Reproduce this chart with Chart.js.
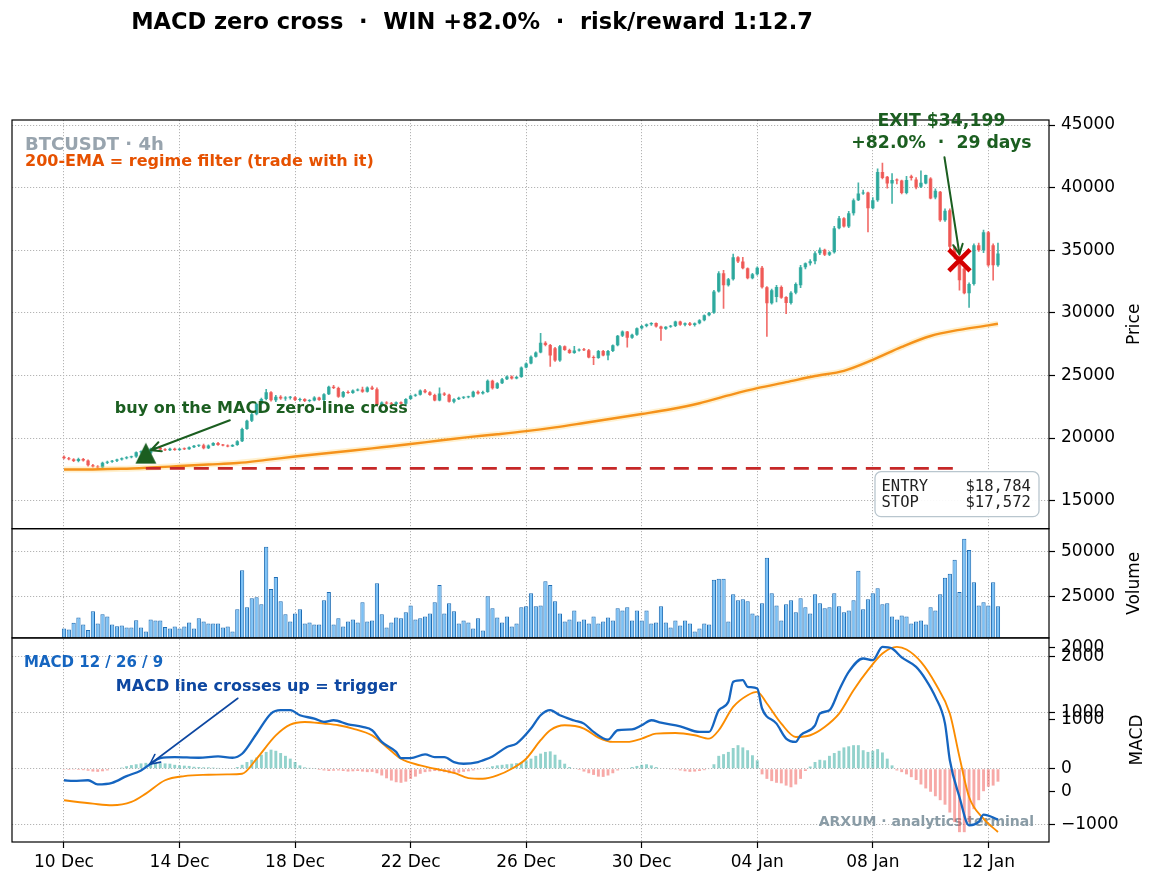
<!DOCTYPE html>
<html>
<head>
<meta charset="utf-8" />
<title>MACD zero cross</title>
<script src="https://cdn.jsdelivr.net/npm/chart.js@4"></script>
<style>
  html, body { margin: 0; padding: 0; background: #fff; }
  #wrap { position: relative; width: 1159px; height: 884px; }
</style>
</head>
<body>
<div id="wrap"><canvas id="chart" width="1159" height="884"></canvas></div>
<script>
// ---- data (4h candles, index 0 = 10 Dec) ----
const opens = [
  18500,18380,18300,18160,18330,18200,17820,17720,17640,18020,
  18110,18180,18280,18380,18470,18520,18860,18920,18784,19150,
  19220,19080,19020,19150,19040,19140,19100,19260,19380,19420,
  19180,19400,19600,19440,19400,19320,19440,19740,20720,21380,
  21900,22720,23120,23650,23020,23300,23150,23220,23260,23040,
  23120,22960,23000,23240,23040,23500,24100,24000,23300,23680,
  23600,23800,23880,23700,24040,23900,22640,22840,22760,22700,
  22860,22740,23120,23380,23460,23800,23660,23440,23000,23560,
  23460,22900,23100,23220,23260,23300,23700,23560,23680,24580,
  23980,24380,24700,24920,24760,24880,25640,25960,26500,26840,
  27600,27420,27160,26200,27320,27040,26800,27000,27080,27020,
  26440,26400,26960,26600,26960,27400,28160,28500,28000,28240,
  28760,28940,29080,29180,28900,28720,28880,28950,29300,29040,
  29160,29020,29160,29400,29800,30000,31700,33160,32200,32680,
  34440,34100,33560,32760,33080,33600,32040,30760,31260,32070,
  31260,30790,31600,32200,33640,33960,34120,34760,35040,34640,
  34840,36760,37560,36900,37960,39000,39530,39600,38360,39000,
  41240,40870,40330,40600,40560,39560,40900,40650,40070,40330,
  40730,39210,39670,37400,38200,35270,34500,33530,31560,32300,
  35400,35000,36440,35400,33800
];
const highs = [
  18580,18450,18360,18400,18380,18260,17900,17800,18080,18160,
  18220,18320,18420,18520,18560,18900,18980,19000,19200,19280,
  19260,19150,19190,19200,19180,19220,19300,19420,19460,19520,
  19450,19640,19660,19500,19460,19480,19800,20800,21440,22000,
  22800,23200,23880,23700,23400,23380,23300,23320,23300,23200,
  23160,23080,23300,23260,23540,24140,24200,24060,23720,23760,
  23840,23920,24060,24080,24140,24000,22900,22920,22860,22900,
  22900,23160,23420,23500,23850,23880,23700,23500,24000,23620,
  23500,23160,23260,23300,23340,23740,23760,23740,24640,24620,
  24420,24760,24960,24960,24920,25680,26000,26560,26880,28360,
  27700,27480,27240,27400,27360,27100,27320,27120,27160,27080,
  26560,27000,27000,27000,27440,28200,28560,28520,28300,28800,
  29000,29120,29220,29200,28940,28900,29000,29340,29340,29200,
  29240,29200,29460,29840,30040,31800,33300,33400,32760,34700,
  34500,34440,33600,33160,33680,33720,32100,31900,32200,32150,
  31300,31700,32400,33800,34000,34250,34900,35200,35100,34900,
  36900,37700,37600,38100,39100,40390,39800,39640,39200,41500,
  41960,40900,41130,40700,40600,40900,41000,40800,41350,41000,
  40800,39900,39700,38300,38300,35300,34700,33600,32400,35500,
  35560,36600,36500,35500,35560
];
const lows = [
  18330,18250,18120,18100,18150,17760,17680,17560,17600,17960,
  18060,18120,18240,18330,18420,18460,18780,18700,18740,19080,
  19050,18980,18990,19000,19010,19060,19080,19220,19300,19120,
  19150,19380,19400,19360,19280,19300,19400,19700,20680,21300,
  21850,22680,23050,22950,22900,23080,23000,23100,22980,22950,
  22900,22880,22960,23000,22980,23460,23950,23240,23250,23560,
  23560,23760,23640,23660,23860,22560,22520,22700,22640,22600,
  22700,22600,23080,23320,23420,23600,23400,22960,22960,23380,
  22860,22800,23060,23140,23200,23260,23500,23500,23640,23900,
  23940,24340,24660,24700,24720,24840,25600,25920,26460,26800,
  27360,25720,26120,26120,27000,26760,26760,26940,26980,26400,
  25860,26360,26560,26240,26900,27360,28100,27260,27960,28200,
  28700,28880,29000,28860,27800,28680,28840,28900,29000,28960,
  28980,28940,29120,29360,29760,29960,31640,30360,32120,32600,
  34000,33500,32700,32700,33000,31960,28120,30700,30870,31150,
  29930,30700,31500,32000,33500,33800,33900,34650,34560,34560,
  34760,36700,36840,36800,37800,38960,39450,36470,38300,38900,
  40700,39960,38730,40300,39500,39500,40600,39900,40000,40300,
  39100,39100,37300,37300,35100,34300,31800,31500,30440,32200,
  34900,34800,33700,32600,33700
];
const closes = [
  18380,18300,18160,18330,18200,17820,17720,17640,18020,18110,
  18180,18280,18380,18470,18520,18860,18920,18784,19150,19220,
  19080,19020,19150,19040,19140,19100,19260,19380,19420,19180,
  19400,19600,19440,19400,19320,19440,19740,20720,21380,21900,
  22720,23120,23650,23020,23300,23150,23220,23260,23040,23120,
  22960,23000,23240,23040,23500,24100,24000,23300,23680,23600,
  23800,23880,23700,24040,23900,22640,22840,22760,22700,22860,
  22740,23120,23380,23460,23800,23660,23440,23000,23560,23460,
  22900,23100,23220,23260,23300,23700,23560,23680,24580,23980,
  24380,24700,24920,24760,24880,25640,25960,26500,26840,27600,
  27420,26600,26200,27320,27040,26800,27000,27080,27020,26440,
  26400,26960,26600,26960,27400,28160,28500,28000,28240,28760,
  28940,29080,29180,28900,28720,28880,28950,29300,29040,29160,
  29020,29160,29400,29800,30000,31700,33160,32200,32680,34440,
  34100,33560,32760,33080,33600,32040,30760,31800,32070,31210,
  30790,31600,32300,33640,33960,34120,34760,35040,34640,34840,
  36760,37560,36900,37960,39000,39530,39600,38360,39000,41240,
  40760,40330,40600,40560,39560,40600,40760,40010,40390,41000,
  39130,39740,37400,38150,35270,34500,32600,31560,32300,35400,
  35000,36440,33800,33800,34740
];
const volumes = [
  6800,6200,10000,13000,9100,5900,16500,9650,14800,13600,
  9100,8100,8500,7400,7400,11500,7400,5100,11900,11300,
  11300,7700,6800,7900,6800,7900,10200,6800,12500,10800,
  9650,9650,9650,7400,7900,5100,17600,39600,18700,23900,
  24400,20400,52800,29000,35800,22100,14800,10800,15300,17600,
  9650,10200,9100,9100,22700,27300,9100,12500,7900,10800,
  11900,10200,21600,10800,11300,32300,14800,7400,10200,13000,
  12500,15900,19800,11900,12500,13600,15300,21600,31300,15300,
  21000,16500,9650,11300,10200,6800,12500,5700,25000,18200,
  13000,10200,13600,7900,9650,18700,19300,26700,19300,19800,
  33400,31300,22100,15300,10800,11900,17000,10800,11900,9650,
  13600,9650,10800,13000,11300,18200,17000,18700,11300,17000,
  11300,17000,9650,10200,19300,10200,7400,11300,8500,11300,
  9650,5100,6800,9650,9100,34200,34800,34800,10800,26100,
  22700,23300,22100,15300,14100,21000,46600,26700,19800,11300,
  20400,22700,15900,23900,18700,15300,26100,21000,18200,18700,
  26700,19300,15900,17000,22700,39400,17600,23300,26700,29500,
  20400,21000,13600,11900,14100,13600,9650,10800,11300,9100,
  18700,17000,26100,35400,37700,45500,27300,57400,51100,32900,
  19800,21600,19800,32900,19300
];
const macdHist = [
  -15,-20,-15,-20,-25,-35,-50,-55,-45,-30,
  -10,0,20,45,65,80,95,105,110,105,
  100,95,90,70,60,55,50,35,30,25,
  25,20,15,10,10,8,30,70,120,160,
  200,250,300,340,320,280,230,180,120,60,
  25,15,5,-20,-30,-40,-35,-30,-40,-50,
  -45,-40,-50,-60,-55,-80,-120,-170,-210,-240,
  -250,-230,-180,-140,-90,-60,-50,-40,-45,-60,
  -80,-85,-70,-55,-45,-30,-15,0,20,45,
  60,70,80,90,100,120,150,180,230,270,
  300,310,250,160,90,30,10,-20,-50,-80,
  -110,-140,-145,-120,-80,-30,-10,10,30,50,
  70,80,60,30,10,0,-5,-15,-30,-45,
  -55,-50,-40,-25,-10,80,230,260,300,370,
  420,380,330,240,150,-100,-180,-220,-250,-260,
  -300,-330,-280,-180,-40,40,120,160,150,230,
  280,320,380,400,420,420,330,300,320,350,
  290,180,60,-30,-60,-100,-150,-200,-280,-350,
  -410,-490,-560,-640,-780,-950,-1130,-1130,-950,-720,
  -560,-400,-320,-300,-230
];
const emaIdx  = [0,6,12,18,24,30,36,42,48,54,60,66,72,78,84,90,96,102,108,114,120,126,132,138,144,150,156,162,168,174,180,186,192,194];
const emaVals = [17480,17490,17540,17640,17760,17880,18000,18250,18520,18760,19000,19260,19520,19800,20070,20300,20550,20850,21200,21560,21920,22300,22780,23400,23980,24460,24950,25370,26250,27280,28150,28640,29000,29130];
const macdIdx  = [0,2,5,7,10,13,16,18,20,23,28,32,35,37,40,43,45,47,49,52,54,56,59,62,64,66,69,70,72,75,77,79,81,83,86,87,89,92,94,97,99,101,103,106,108,110,113,115,118,120,122,124,128,132,134,136,138,139,141,142,144,145,148,150,152,153,156,157,159,161,163,166,168,170,172,174,177,179,181,183,184,186,188,190,191,194];
const macdVals = [-205,-217,-205,-277,-250,-131,-30,89,190,208,196,220,196,267,624,983,1043,1043,953,894,834,864,792,745,686,478,300,190,190,256,208,208,119,89,119,149,220,389,448,716,953,1043,953,860,804,656,519,686,700,774,864,820,756,656,656,1043,1192,1548,1578,1459,1429,1073,804,537,478,597,774,983,1043,1400,1726,1964,1934,2172,2142,1984,1815,1590,1280,804,151,-503,-1008,-948,-817,-906];
const signalIdx  = [0,6,10,14,17,21,25,30,34,37,40,44,47,50,54,57,60,64,67,70,74,77,81,84,87,90,93,96,99,101,104,108,111,114,117,120,123,127,131,134,136,139,142,144,146,149,152,155,158,161,164,167,170,173,175,178,181,184,186,188,191,194];
const signalVals = [-562,-622,-651,-592,-443,-205,-131,-107,-101,-89,178,594,786,834,804,774,716,594,389,178,59,0,-75,-166,-178,-119,0,178,508,686,774,716,555,478,478,537,626,637,597,537,686,1102,1310,1370,1162,804,567,597,745,983,1400,1756,2053,2172,2124,1904,1518,983,211,-503,-889,-1127];

const xTickPos    = [0, 24, 48, 72, 96, 120, 144, 168, 192];
const xTickLabels = ['10 Dec', '14 Dec', '18 Dec', '22 Dec', '26 Dec', '30 Dec', '04 Jan', '08 Jan', '12 Jan'];
const priceTicks  = [15000, 20000, 25000, 30000, 35000, 40000, 45000];
const volumeTicks = [25000, 50000];
const macdTicks   = [-1000, 0, 1000, 2000];
const macdTwinTicks = [0, 1000, 2000];

const ENTRY = { idx: 17, price: 18784 };
const STOP  = { from: 17, to: 185, price: 17572 };
const EXIT  = { idx: 186, price: 34199 };

// axis limits
const X_MIN = -10.8, X_MAX = 204.6;
const PRICE_MIN = 12760, PRICE_MAX = 45400;
const VOL_MIN = 1480, VOL_MAX = 63060;
const MACD_MIN = -1305, MACD_MAX = 2331;
const TWIN_MIN = -704, TWIN_MAX = 2129;

// ---- styles ----
const UP = 'rgba(38,166,154,0.85)', DOWN = 'rgba(239,83,80,0.85)';
const GRID = '#b4b4b4';
const GREEN = '#1b5e20';
const FONT = '"DejaVu Sans", sans-serif';

Chart.defaults.font.family = FONT;
Chart.defaults.font.size = 17;
Chart.defaults.color = '#000';

const idx = closes.map((_, i) => i);
const candleColors = idx.map(i => closes[i] >= opens[i] ? UP : DOWN);
const histColors = macdHist.map(v => v >= 0 ? 'rgba(38,166,154,0.5)' : 'rgba(239,83,80,0.5)');

const fmt = v => (v < 0 ? '\u2212' + Math.abs(v) : String(v));
const twinToMain = v => MACD_MIN + (v - TWIN_MIN) / (TWIN_MAX - TWIN_MIN) * (MACD_MAX - MACD_MIN);

// entry marker: matplotlib-like triangle (bbox-centred)
const tri = document.createElement('canvas');
tri.width = 22; tri.height = 22;
(function () {
  const t = tri.getContext('2d');
  t.fillStyle = GREEN;
  t.beginPath(); t.moveTo(11, 0.5); t.lineTo(21.5, 21.5); t.lineTo(0.5, 21.5); t.closePath(); t.fill();
})();

function yAxis(weight, min, max, extra) {
  return Object.assign({
    type: 'linear', position: 'right', stack: 'panels', stackWeight: weight,
    min, max, bounds: 'data',
    grid: { color: GRID, lineWidth: 1, tickColor: '#000', tickLength: 6, tickWidth: 1.2 },
    border: { display: false, dash: [1.2, 1.8] },
    ticks: { padding: 6, autoSkip: false, color: '#000', callback: v => String(v) },
    afterFit: s => { s.width = 110; }
  }, extra);
}

function arrow(ctx, x1, y1, x2, y2, color, lw) {
  const a = Math.atan2(y2 - y1, x2 - x1), L = 11, w = 0.45;
  ctx.save();
  ctx.strokeStyle = color; ctx.lineWidth = lw; ctx.lineCap = 'round'; ctx.lineJoin = 'round';
  ctx.beginPath();
  ctx.moveTo(x1, y1); ctx.lineTo(x2, y2);
  ctx.moveTo(x2 - L * Math.cos(a - w), y2 - L * Math.sin(a - w));
  ctx.lineTo(x2, y2);
  ctx.lineTo(x2 - L * Math.cos(a + w), y2 - L * Math.sin(a + w));
  ctx.stroke();
  ctx.restore();
}

function txt(ctx, s, x, y, font, color, align) {
  ctx.font = font; ctx.fillStyle = color; ctx.textAlign = align || 'left'; ctx.textBaseline = 'alphabetic';
  ctx.fillText(s, x, y);
}

function vtxt(ctx, s, x, y) {
  ctx.save();
  ctx.translate(x, y); ctx.rotate(-Math.PI / 2);
  ctx.font = '17px ' + FONT; ctx.fillStyle = '#000'; ctx.textAlign = 'center'; ctx.textBaseline = 'middle';
  ctx.fillText(s, 0, 0);
  ctx.restore();
}

const overlay = {
  id: 'overlay',
  beforeDatasetsDraw(chart) {
    const { ctx, chartArea: ca, scales } = chart;
    ctx.save();
    txt(ctx, 'ARXUM \u00b7 analytics terminal', ca.right - 15, scales.yMacd.bottom - 16,
        'bold 14px ' + FONT, 'rgba(125,145,156,0.9)', 'right');
    ctx.restore();
  },
  afterDatasetsDraw(chart) {
    const { ctx, chartArea: ca, scales } = chart;
    ctx.save();
    ctx.strokeStyle = '#000'; ctx.lineWidth = 1.2;
    ['yPrice', 'yVol', 'yMacd'].forEach(id => {
      const s = scales[id];
      ctx.strokeRect(ca.left, s.top, ca.right - ca.left, s.bottom - s.top);
    });
    ctx.restore();
  },
  afterDraw(chart) {
    const { ctx, chartArea: ca, scales } = chart;
    const yP = scales.yPrice, yV = scales.yVol, yM = scales.yMacd, x = scales.x;
    const ex = x.getPixelForValue(ENTRY.idx), ey = yP.getPixelForValue(ENTRY.price);
    const xx = x.getPixelForValue(EXIT.idx), xy = yP.getPixelForValue(EXIT.price);
    const z0 = yM.getPixelForValue(0);
    ctx.save();

    // title
    txt(ctx, 'MACD zero cross  \u00b7  WIN +82.0%  \u00b7  risk/reward 1:12.7', 472, 29,
        'bold 22.5px ' + FONT, '#000', 'center');

    // price panel labels
    txt(ctx, 'BTCUSDT \u00b7 4h', ca.left + 13, yP.top + 29.5, 'bold 18px ' + FONT, '#98a4ae');
    txt(ctx, '200-EMA = regime filter (trade with it)', ca.left + 13, yP.top + 45.5, 'bold 16px ' + FONT, '#e65100');

    // entry annotation
    txt(ctx, 'buy on the MACD zero-line cross', ex - 31, ey - 40, 'bold 16px ' + FONT, GREEN);
    arrow(ctx, ex + 84, ey - 33, ex + 5, ey - 3, GREEN, 2);

    // exit annotation
    txt(ctx, 'EXIT $' + EXIT.price.toLocaleString('en-US'), xx - 18, xy - 134, 'bold 17.3px ' + FONT, GREEN, 'center');
    txt(ctx, '+82.0%  \u00b7  29 days', xx - 18, xy - 112, 'bold 17.3px ' + FONT, GREEN, 'center');
    arrow(ctx, xx - 15, xy - 103, xx, xy - 6, GREEN, 2);

    // entry / stop box
    const bw = 164, bh = 45, bx = ca.right - 10 - bw, by = yP.bottom - 12 - bh;
    ctx.beginPath();
    ctx.roundRect(bx, by, bw, bh, 6);
    ctx.fillStyle = 'rgba(255,255,255,0.92)'; ctx.fill();
    ctx.strokeStyle = '#b9c6ce'; ctx.lineWidth = 1.3; ctx.stroke();
    const mono = '15.5px "DejaVu Sans Mono", monospace';
    txt(ctx, 'ENTRY    $' + ENTRY.price.toLocaleString('en-US'), bx + 6.5, by + 19, mono, '#222');
    txt(ctx, 'STOP     $' + STOP.price.toLocaleString('en-US'), bx + 6.5, by + 35.7, mono, '#222');

    // macd panel labels
    txt(ctx, 'MACD 12 / 26 / 9', ca.left + 12, yM.top + 29, 'bold 15px ' + FONT, '#1565c0');
    txt(ctx, 'MACD line crosses up = trigger', ex - 30, yM.top + 53, 'bold 16px ' + FONT, '#0d47a1');
    arrow(ctx, ex + 92, z0 - 70.5, ex + 4, z0 - 4.5, '#0d47a1', 1.6);

    // axis titles
    vtxt(ctx, 'Price', 1135, (yP.top + yP.bottom) / 2);
    vtxt(ctx, 'Volume', 1135, (yV.top + yV.bottom) / 2);
    vtxt(ctx, 'MACD', 1138, (yM.top + yM.bottom) / 2);
    ctx.restore();
  }
};

new Chart(document.getElementById('chart'), {
  type: 'bar',
  data: {
    datasets: [
      { type: 'line', label: 'entry', data: [{ x: ENTRY.idx, y: ENTRY.price }], yAxisID: 'yPrice',
        showLine: false, pointStyle: tri, pointRadius: 11, order: 0 },
      { type: 'line', label: 'exit', data: [{ x: EXIT.idx, y: EXIT.price }], yAxisID: 'yPrice',
        showLine: false, pointStyle: 'crossRot', pointRadius: 15, pointBorderWidth: 4.5,
        pointBorderColor: '#d50000', pointBackgroundColor: '#d50000', order: 0 },
      { type: 'line', label: 'stop', data: [{ x: STOP.from, y: STOP.price }, { x: STOP.to, y: STOP.price }],
        yAxisID: 'yPrice', borderColor: '#c62828', borderWidth: 2.6, borderDash: [15, 9], pointRadius: 0, order: 1 },
      { type: 'line', label: 'EMA200', data: emaIdx.map((v, k) => ({ x: v, y: emaVals[k] })), yAxisID: 'yPrice',
        borderColor: '#f5921b', borderWidth: 2.4, pointRadius: 0, cubicInterpolationMode: 'monotone', order: 1 },
      { type: 'line', label: 'EMA halo', data: emaIdx.map((v, k) => ({ x: v, y: emaVals[k] })), yAxisID: 'yPrice',
        borderColor: 'rgba(255,214,120,0.35)', borderWidth: 6, pointRadius: 0, cubicInterpolationMode: 'monotone', order: 1.5 },
      { type: 'bar', label: 'bodies', data: idx.map(i => ({ x: i, y: [opens[i], closes[i]] })), yAxisID: 'yPrice',
        backgroundColor: candleColors, grouped: false, barPercentage: 0.8, categoryPercentage: 0.9, minBarLength: 1, order: 2 },
      { type: 'bar', label: 'wicks', data: idx.map(i => ({ x: i, y: [lows[i], highs[i]] })), yAxisID: 'yPrice',
        backgroundColor: candleColors, grouped: false, barThickness: 1, maxBarThickness: 1, order: 3 },
      { type: 'bar', label: 'volume', data: idx.map(i => ({ x: i, y: [VOL_MIN, volumes[i]] })), yAxisID: 'yVol',
        backgroundColor: 'rgba(116,190,246,0.95)', borderColor: '#1f6db4', borderWidth: 1, borderSkipped: 'start',
        grouped: false, barPercentage: 0.88, categoryPercentage: 1, order: 4 },
      { type: 'bar', label: 'hist', data: idx.map(i => ({ x: i, y: macdHist[i] })), yAxisID: 'yMacd',
        backgroundColor: histColors, grouped: false, barPercentage: 0.6, categoryPercentage: 1, order: 5 },
      { type: 'line', label: 'MACD', data: macdIdx.map((v, k) => ({ x: v, y: macdVals[k] })), yAxisID: 'yMacd',
        borderColor: '#1565c0', borderWidth: 2.3, pointRadius: 0, cubicInterpolationMode: 'monotone', order: 1 },
      { type: 'line', label: 'signal', data: signalIdx.map((v, k) => ({ x: v, y: signalVals[k] })), yAxisID: 'yMacd',
        borderColor: '#fb8c00', borderWidth: 1.9, pointRadius: 0, cubicInterpolationMode: 'monotone', order: 1 }
    ]
  },
  options: {
    responsive: false,
    animation: false,
    events: [],
    layout: { autoPadding: false, padding: { top: 120, left: 12, right: 0, bottom: 0 } },
    plugins: { legend: { display: false }, tooltip: { enabled: false }, title: { display: false } },
    scales: {
      x: {
        type: 'linear', min: X_MIN, max: X_MAX, offset: false,
        afterBuildTicks: s => { s.ticks = xTickPos.map(v => ({ value: v })); },
        ticks: { callback: v => xTickLabels[xTickPos.indexOf(v)], padding: 4, maxRotation: 0, autoSkip: false, color: '#000' },
        grid: { offset: false, color: GRID, lineWidth: 1, tickColor: '#000', tickLength: 6, tickWidth: 1.2 },
        border: { display: false, dash: [1.2, 1.8] },
        afterFit: s => { s.height = 42; }
      },
      yPrice: yAxis(408.5, PRICE_MIN, PRICE_MAX, {
        afterBuildTicks: s => { s.ticks = priceTicks.map(v => ({ value: v })); }
      }),
      yVol: yAxis(109.2, VOL_MIN, VOL_MAX, {
        afterBuildTicks: s => { s.ticks = volumeTicks.map(v => ({ value: v })); }
      }),
      yMacd: yAxis(204, MACD_MIN, MACD_MAX, {
        afterBuildTicks: s => {
          s.ticks = macdTicks.map(v => ({ value: v, lbl: fmt(v) }))
            .concat(macdTwinTicks.map(v => ({ value: twinToMain(v), lbl: fmt(v), twin: true })));
        },
        ticks: { padding: 6, autoSkip: false, color: '#000', callback: (v, i, t) => t[i].lbl },
        grid: {
          color: c => (c.tick && c.tick.twin ? 'rgba(0,0,0,0)' : GRID),
          lineWidth: 1, tickColor: '#000', tickLength: 6, tickWidth: 1.2
        }
      })
    }
  },
  plugins: [overlay]
});
</script>
</body>
</html>
